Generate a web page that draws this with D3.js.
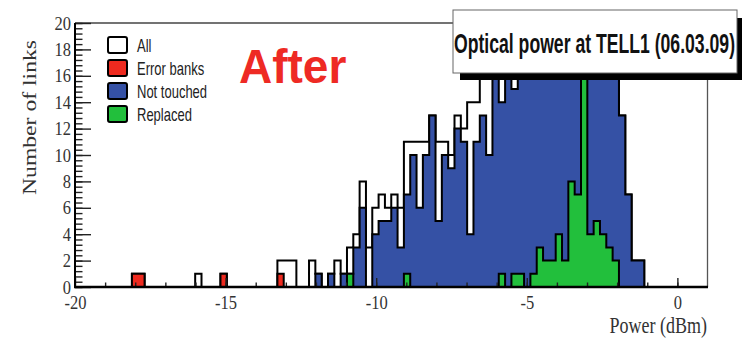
<!DOCTYPE html>
<html>
<head>
<meta charset="utf-8">
<script src="https://cdn.jsdelivr.net/npm/d3@7"></script>
<style>
  body { margin: 0; background: #fff; }
  svg { display: block; }
</style>
</head>
<body>
<svg width="742" height="339"></svg>
<script>
// histogram: 100 bins from -20 to 1 dBm (bin width 0.21)
const xMin = -20, xMax = 1, nBins = 100;
const binW = (xMax - xMin) / nBins;

const allLinks = [
  0,0,0,0,0,0,0,0,0,1,
  1,0,0,0,0,0,0,0,0,1,
  0,0,0,1,0,0,0,0,0,0,
  0,0,2,2,2,0,0,2,1,0,
  1,2,1,3,4,8,3,6,7,6,
  7,6,11,11,11,11,13,11,11,10,
  13,12,14,14,17,17,18,17,18,18,
  18,18,19,18,18,18,19,18,18,18,
  18,18,19,18,18,18,13,7,2,2,
  0,0,0,0,0,0,0,0,0,0
];
const errorBanks = [
  0,0,0,0,0,0,0,0,0,1,
  1,0,0,0,0,0,0,0,0,0,
  0,0,0,1,0,0,0,0,0,0,
  0,0,1,0,0,0,0,0,0,0,
  0,0,0,0,0,0,0,0,0,0,
  0,0,0,0,0,0,0,0,0,0,
  0,0,0,0,0,0,0,0,0,0,
  0,0,0,0,0,0,0,0,0,0,
  0,0,0,0,0,0,0,0,0,0,
  0,0,0,0,0,0,0,0,0,0
];
const notTouched = [
  0,0,0,0,0,0,0,0,0,0,
  0,0,0,0,0,0,0,0,0,0,
  0,0,0,0,0,0,0,0,0,0,
  0,0,0,0,0,0,0,0,1,0,
  1,0,1,1,3,6,0,4,5,5,
  6,3,7,10,6,10,13,5,10,9,
  12,11,4,11,13,10,17,14,17,15,
  17,18,19,18,17,18,19,18,17,18,
  17,18,19,18,17,17,13,7,2,2,
  0,0,0,0,0,0,0,0,0,0
];
const replaced = [
  0,0,0,0,0,0,0,0,0,0,
  0,0,0,0,0,0,0,0,0,0,
  0,0,0,0,0,0,0,0,0,0,
  0,0,0,0,0,0,0,0,0,0,
  0,0,0,1,0,0,0,0,0,0,
  0,0,1,0,0,0,0,0,0,0,
  0,0,0,0,0,0,0,1,0,1,
  1,0,1,3,2,2,4,2,8,7,
  17,4,5,4,3,2,0,0,0,0,
  0,0,0,0,0,0,0,0,0,0
];

const legendNames = ['All', 'Error banks', 'Not touched', 'Replaced'];
const colors = ['#ffffff', '#ee2a1f', '#3551a5', '#22bf3c'];
const xLabels = [-20, -15, -10, -5, 0];
const yLabels = d3.range(0, 21, 2);

const svg = d3.select('svg');
const x = d3.scaleLinear().domain([xMin, xMax]).range([75, 707.5]);
const y = d3.scaleLinear().domain([0, 20]).range([287, 23]);

// step outline of one histogram
function stepPath(vals) {
  const pts = [[xMin, 0]];
  vals.forEach((v, i) => {
    pts.push([xMin + i * binW, v]);
    pts.push([xMin + (i + 1) * binW, v]);
  });
  pts.push([xMax, 0]);
  return d3.line().x(d => x(d[0])).y(d => y(d[1]))(pts);
}

// frame top / right (thin)
svg.append('line').attr('x1', 75).attr('x2', 707.5).attr('y1', 23).attr('y2', 23)
  .attr('stroke', '#444').attr('stroke-width', 1.3);
svg.append('line').attr('x1', 707.5).attr('x2', 707.5).attr('y1', 23).attr('y2', 287)
  .attr('stroke', '#555').attr('stroke-width', 1.3);

// histograms, drawn on top of each other
const series = [allLinks, errorBanks, notTouched, replaced];
[0, 2, 3, 1].forEach(i => {
  svg.append('path')
    .attr('d', stepPath(series[i]))
    .attr('fill', colors[i])
    .attr('stroke', '#000')
    .attr('stroke-width', 2)
    .attr('stroke-linejoin', 'miter');
});

// y axis ticks (pointing inside)
const yAxis = svg.append('g').attr('transform', 'translate(75,0)')
  .call(d3.axisLeft(y).tickValues(yLabels).tickSize(-16).tickPadding(4));
svg.append('g').attr('transform', 'translate(75,0)')
  .call(d3.axisLeft(y).tickValues(d3.range(0, 20.01, 0.4)).tickSize(-7.5).tickFormat(''))
  .select('.domain').remove();
yAxis.select('.domain').remove();
yAxis.selectAll('.tick text')
  .attr('font-family', '"Liberation Serif", "DejaVu Serif", serif')
  .attr('font-size', 16.5).attr('fill', '#333')
  .attr('transform', 'scale(1,1.15)');
svg.selectAll('.tick line').attr('stroke', '#222').attr('stroke-width', 1.4);

// x axis ticks
const xAxis = svg.append('g').attr('transform', 'translate(0,287)')
  .call(d3.axisBottom(x).tickValues(xLabels).tickSize(-9).tickFormat(d => d));
xAxis.select('.domain').remove();
xAxis.selectAll('.tick text')
  .attr('y', 0).attr('dy', null)
  .attr('font-family', '"Liberation Serif", "DejaVu Serif", serif')
  .attr('font-size', 16.5).attr('fill', '#333')
  .attr('transform', 'translate(0,21.5) scale(1,1.15)');
svg.append('g').attr('transform', 'translate(0,287)')
  .call(d3.axisBottom(x).tickValues(d3.range(-19, 1, 1)).tickSize(-4.5).tickFormat(''))
  .select('.domain').remove();
svg.selectAll('.tick line').attr('stroke', '#222').attr('stroke-width', 1.4);

// axis lines
svg.append('line').attr('x1', 75).attr('x2', 75).attr('y1', 23).attr('y2', 288)
  .attr('stroke', '#000').attr('stroke-width', 2);
svg.append('line').attr('x1', 74).attr('x2', 708).attr('y1', 287).attr('y2', 287)
  .attr('stroke', '#000').attr('stroke-width', 2.6);

// axis titles
svg.append('text')
  .attr('transform', 'translate(35.5,117.5) rotate(-90)')
  .attr('text-anchor', 'middle')
  .attr('font-family', '"Liberation Serif", "DejaVu Serif", serif')
  .attr('font-size', 18).attr('fill', '#333')
  .attr('textLength', 155).attr('lengthAdjust', 'spacingAndGlyphs')
  .text('Number of links');
svg.append('text')
  .attr('transform', 'translate(707,332.5) scale(1,1.28)')
  .attr('text-anchor', 'end')
  .attr('font-family', '"Liberation Serif", "DejaVu Serif", serif')
  .attr('font-size', 18).attr('fill', '#333')
  .text('Power (dBm)');

// legend
const leg = svg.selectAll('.leg').data(legendNames).enter().append('g')
  .attr('transform', (d, i) => `translate(108,${37 + i * 23})`);
leg.append('rect').attr('width', 19).attr('height', 16).attr('rx', 2)
  .attr('fill', (d, i) => colors[i]).attr('stroke', '#000').attr('stroke-width', 2);
leg.append('text')
  .attr('transform', 'translate(29,14.5) scale(1,1.35)')
  .attr('font-family', '"Liberation Sans", Arial, sans-serif')
  .attr('font-size', 13).attr('fill', '#222')
  .text(d => d);

// "After"
svg.append('text')
  .attr('transform', 'translate(239,83) scale(1,1.06)')
  .attr('font-family', '"Liberation Sans", Arial, sans-serif')
  .attr('font-weight', 'bold').attr('font-size', 46).attr('fill', '#ee2a24')
  .text('After');

// title box with shadow
svg.append('rect').attr('x', 460).attr('y', 18).attr('width', 282).attr('height', 62).attr('fill', '#000');
svg.append('rect').attr('x', 453).attr('y', 10).attr('width', 284).attr('height', 63)
  .attr('fill', '#fff').attr('stroke', '#666').attr('stroke-width', 1);
svg.append('text')
  .attr('transform', 'translate(454,53) scale(1,1.35)')
  .attr('font-family', '"Liberation Sans", Arial, sans-serif')
  .attr('font-weight', 'bold').attr('font-size', 20).attr('fill', '#111')
  .attr('textLength', 281).attr('lengthAdjust', 'spacingAndGlyphs')
  .text('Optical power at TELL1 (06.03.09)');
</script>
</body>
</html>
